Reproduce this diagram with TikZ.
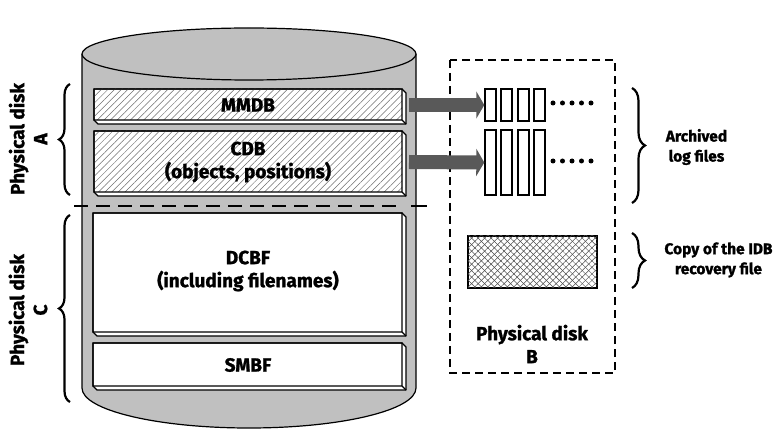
\documentclass[tikz,border=0pt]{standalone}
\usepackage{fontspec}
\setmainfont{Fira Sans}[BoldFeatures={FakeBold=1.3}]
\usetikzlibrary{patterns.meta,decorations.pathreplacing,arrows.meta}
\definecolor{cylgrey}{HTML}{C0C0C0}
\definecolor{arrgrey}{HTML}{595959}
\definecolor{hatchgrey}{HTML}{6E6E6E}
\definecolor{crossgrey}{HTML}{4A4A4A}
\tikzset{
  bigtext/.style={font=\fontsize{19}{23}\selectfont\bfseries, align=center, inner sep=0pt},
  smalltext/.style={font=\fontsize{15.5}{20}\selectfont\bfseries, align=center, inner sep=0pt},
  logfile/.style={draw, line width=1.4pt, fill=white, inner sep=0pt, minimum width=11pt},
  bigarrow/.style={line width=14pt, arrgrey, -{Triangle[length=8pt,width=27pt]}},
  bracestyle/.style={decorate, decoration={brace, amplitude=11pt}, line width=2.2pt},
  dotstyle/.style={circle, fill, inner sep=0pt, minimum size=5pt},
}
\newcommand\bevbox[5]{%
  \filldraw[line width=1.4pt, fill=white, line join=round] (#1,#2) -- (#3,#2) -- (#3+4,#2+4) -- (#3+4,#4+4) -- (#1+4,#4+4) -- (#1,#4) -- cycle;
  \path[#5] (#1,#2) rectangle (#3,#4);
  \draw[line width=1.4pt] (#1,#2) rectangle (#3,#4) (#3,#4) -- (#3+4,#4+4);
}
\begin{document}
\begin{tikzpicture}[x=1pt,y=-1pt]
\useasboundingbox (0,0) rectangle (774,430);
% cylinder
\filldraw[cylgrey, draw=black, line width=1.2pt] (82,54) -- (82,388) arc[start angle=180, end angle=360, x radius=167pt, y radius=40pt] -- (416,54);
\filldraw[fill=cylgrey, draw=black, line width=1.2pt] (249,54) ellipse[x radius=167pt, y radius=26pt];
% boxes
\bevbox{94}{89}{402}{120}{pattern={Lines[angle=45,distance=4.7pt,line width=0.5pt]}, pattern color=hatchgrey}
\bevbox{94}{131}{402}{192}{pattern={Lines[angle=45,distance=4.7pt,line width=0.5pt]}, pattern color=hatchgrey}
\bevbox{93}{213}{402}{332}{}
\bevbox{93}{343}{402}{386}{}
\node[bigtext] (mmdb) at (248,105) {MMDB};
\node[bigtext] (cdb) at (248,162) {CDB\\(objects, positions)};
\node[bigtext] (dcbf) at (248,271) {DCBF\\(including filenames)};
\node[bigtext] (smbf) at (248,365) {SMBF};
% dashed separator
\draw[line width=1.4pt, dash pattern=on 14pt off 8pt] (74,206) -- (403,206);
\draw[line width=1.4pt] (411,206) -- (427,206);
% left braces and labels
\draw[bracestyle] (70,195) -- (70,84);
\draw[bracestyle] (70,402) -- (70,215);
\node[bigtext, rotate=90] (pda) at (28,139) {Physical disk\\A};
\node[bigtext, rotate=90] (pdc) at (28,310) {Physical disk\\C};
% disk B
\draw[line width=1.4pt, dash pattern=on 8pt off 5pt] (450,60) rectangle (615,373);
\node[bigtext] (pdb) at (532,344) {Physical disk\\B};
% log files
\foreach \i/\x in {1/490.5,2/506.5,3/523.5,4/539.5}{
  \node[logfile, minimum height=32pt] (la\i) at (\x,105) {};
  \node[logfile, minimum height=65pt] (lb\i) at (\x,162.5) {};
}
\foreach \i/\x in {1/553,2/562.5,3/572,4/581.5,5/591}{
  \node[dotstyle] (da\i) at (\x,103) {};
  \node[dotstyle] (db\i) at (\x,161) {};
}
% arrows
\coordinate (a1) at (409,105);
\coordinate (a2) at (409,162);
\draw[bigarrow] (a1) -- (la1.west);
\draw[bigarrow] (a2) -- (lb1.west);
% copy of recovery file
\node[draw, line width=1.4pt, minimum width=129pt, minimum height=52pt, inner sep=0pt,
  postaction={pattern={Lines[angle=45,distance=4.6pt,line width=0.5pt]}, pattern color=crossgrey},
  postaction={pattern={Lines[angle=-45,distance=4.6pt,line width=0.5pt]}, pattern color=crossgrey}] (rec) at (532.5,262) {};
% right braces and labels
\draw[bracestyle, decoration={amplitude=13pt}] (632,88) -- (632,203);
\draw[bracestyle, decoration={amplitude=13pt}] (632,233) -- (632,288);
\node[smalltext] (arch) at (696.5,147) {Archived\\log files};
\node[smalltext] (copy) at (718.5,260) {Copy of the IDB\\recovery file};
\end{tikzpicture}
\end{document}
